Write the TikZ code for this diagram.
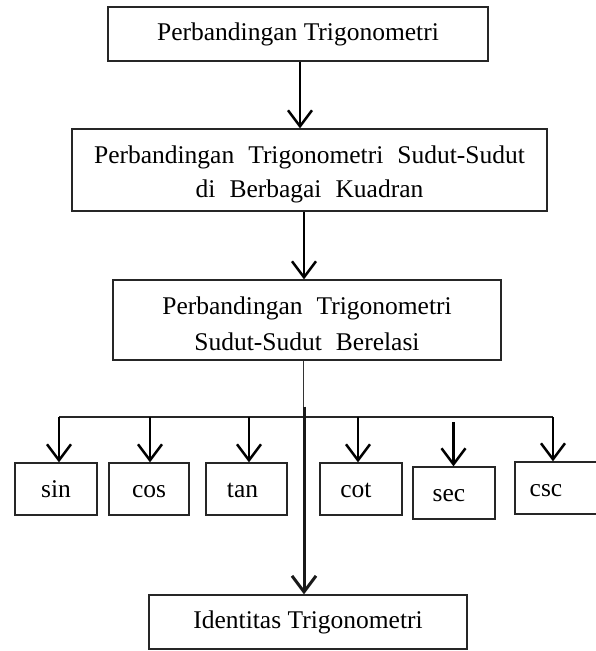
\documentclass[tikz,border=0pt]{standalone}
\usepackage{fontspec}
\setmainfont{Liberation Serif}
\usetikzlibrary{arrows.meta}
\newcommand\toppad{\rule{0pt}{25.5pt}}
\begin{document}
\begin{tikzpicture}[x=1pt,y=-1pt,
  box/.style={draw=black!85, line width=1.3pt, rectangle, inner sep=0pt,
    font=\fontsize{25.5}{34}\selectfont, align=center},
  sbox/.style={draw=black!85, line width=1.3pt, rectangle, inner sep=0pt,
    font=\fontsize{25.5}{34}\selectfont, minimum height=52pt,
    text height=17pt, text depth=0pt},
  wide/.style={execute at begin node={\spaceskip=14pt plus 1pt\relax}},
  arr/.style={draw=black, line width=2.5pt, -{Straight Barb[length=16pt,width=24pt]}},
  thin/.style={draw=black!80, line width=1.2pt},
  mid/.style={draw=black!85, line width=1.6pt},
  thick/.style={draw=black!90, line width=3pt, -{Straight Barb[length=16pt,width=24pt]}},
  ]
\useasboundingbox (0,0) rectangle (595,651);

% main boxes
\node[box, minimum width=380pt, minimum height=54pt] (b1) at (298,34) {Perbandingan Trigonometri};
\node[box, wide, minimum width=475pt, minimum height=82pt] (b2) at (309.5,170)
  {\toppad Perbandingan Trigonometri Sudut-Sudut\\di Berbagai Kuadran};
\node[box, wide, minimum width=388pt, minimum height=80pt,
  font=\fontsize{25.5}{36}\selectfont] (b3) at (307,320)
  {\toppad Perbandingan Trigonometri\\Sudut-Sudut Berelasi};
\node[box, minimum width=318pt, minimum height=54pt] (b4) at (308,622) {Identitas Trigonometri};

% small boxes
\node[sbox, minimum width=82pt] (sin) at (56,489) {sin};
\node[sbox, minimum width=80pt] (cos) at (149,489) {cos};
\node[sbox, minimum width=81pt] (tan) at (246.5,489) {\hspace*{-8pt}tan};
\node[sbox, minimum width=82pt] (cot) at (361,489) {\hspace*{-10pt}cot};
\node[sbox, minimum width=82pt] (sec) at (454,493) {\hspace*{-10pt}sec};
\node[sbox, minimum width=84pt] (csc) at (557,488) {\hspace*{-22pt}csc};

% vertical arrows between main boxes
\coordinate (x1) at (300,0);
\coordinate (x2) at (304,0);
\draw[arr] (b1.south -| x1) -- (b2.north -| x1);
\draw[arr] (b2.south -| x2) -- (b3.north -| x2);

% branching
\coordinate (j) at (303.5,417);
\coordinate (jt) at (304,406.5);
\coordinate (hL) at (59,417);
\coordinate (hR) at (553,417);
\draw[thin] (b3.south -| j) -- (j);
\draw[mid] (hL) -- (hR);
\draw[thick] (jt) -- (b4.north -| jt);

\coordinate (tsin) at (59,417);
\coordinate (tcos) at (150,417);
\coordinate (ttan) at (249,417);
\coordinate (tcot) at (358,417);
\coordinate (tsec) at (453.5,422);
\coordinate (tcsc) at (553,417);
\draw[arr] (tsin) -- (tsin |- sin.north);
\draw[arr] (tcos) -- (tcos |- cos.north);
\draw[arr] (ttan) -- (ttan |- tan.north);
\draw[arr] (tcot) -- (tcot |- cot.north);
\draw[arr] (tsec) -- (tsec |- sec.north);
\draw[arr] (tcsc) -- (tcsc |- csc.north);
\end{tikzpicture}
\end{document}
